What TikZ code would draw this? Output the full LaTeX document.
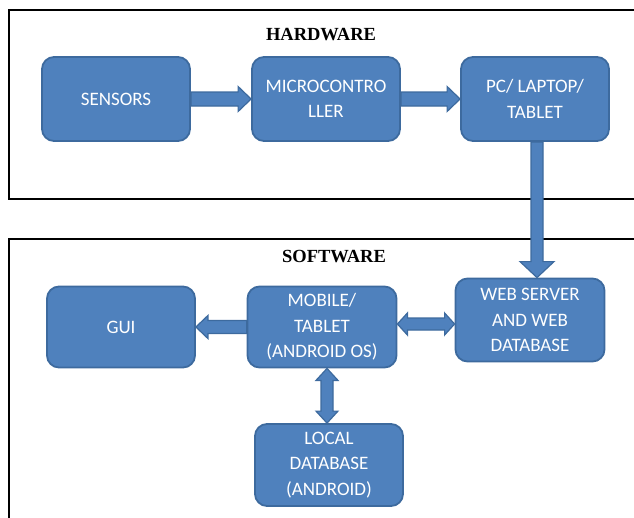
\documentclass[tikz,border=0pt]{standalone}
\usepackage{fontspec}
\setmainfont{Carlito}
\newfontfamily\titlefont{Liberation Serif}
\usetikzlibrary{calc}
\definecolor{boxfill}{HTML}{4F81BD}
\definecolor{boxline}{HTML}{3D6A9E}
\tikzset{
  blk/.style={draw=boxline, fill=boxfill, line width=1.8pt, rounded corners=12pt,
    minimum width=148pt, minimum height=83pt, text=white,
    font=\fontsize{19}{25.5}\selectfont, align=center, inner sep=0pt},
  frame/.style={draw=black, line width=2pt},
  ttl/.style={font=\titlefont\bfseries\fontsize{18.5}{20}\selectfont, inner sep=0pt},
  barrow/.style={fill=boxfill, draw=boxline, line width=1.2pt, line join=miter}
}
% single block arrow: start, end, half shaft, half head, head length
\newcommand\blockarrow[5]{%
  \coordinate (ba-s) at (#1); \coordinate (ba-e) at (#2);
  \coordinate (ba-h) at ($(ba-e)!#5!(ba-s)$);
  \draw[barrow] ($(ba-s)!#3!90:(ba-e)$) -- ($(ba-h)!#3!-90:(ba-s)$) -- ($(ba-h)!#4!-90:(ba-s)$)
    -- (ba-e) -- ($(ba-h)!#4!90:(ba-s)$) -- ($(ba-h)!#3!90:(ba-s)$) -- ($(ba-s)!#3!-90:(ba-e)$) -- cycle;}
% double block arrow
\newcommand\dblarrow[5]{%
  \coordinate (da-s) at (#1); \coordinate (da-e) at (#2);
  \coordinate (da-h1) at ($(da-e)!#5!(da-s)$);
  \coordinate (da-h2) at ($(da-s)!#5!(da-e)$);
  \draw[barrow] (da-s) -- ($(da-h2)!#4!90:(da-e)$) -- ($(da-h2)!#3!90:(da-e)$)
    -- ($(da-h1)!#3!-90:(da-s)$) -- ($(da-h1)!#4!-90:(da-s)$) -- (da-e)
    -- ($(da-h1)!#4!90:(da-s)$) -- ($(da-h1)!#3!90:(da-s)$)
    -- ($(da-h2)!#3!-90:(da-e)$) -- ($(da-h2)!#4!-90:(da-e)$) -- cycle;}
\begin{document}
\begin{tikzpicture}[x=1pt, y=-1pt]
\useasboundingbox (0,0) rectangle (634,517);
\clip (0,0) rectangle (634,517);
% frames
\draw[frame] (9,10) rectangle (660,199);
\draw[frame] (9,239) rectangle (660,540);
\node[ttl] (hw) at (321,35) {HARDWARE};
\node[ttl] (sw) at (334,257) {SOFTWARE};
% hardware boxes
\node[blk, minimum height=84pt] (sens) at (116,99) {SENSORS};
\node[blk, minimum height=84pt] (micro) at (326,99) {MICROCONTRO\\LLER};
\node[blk, minimum height=84pt] (pc) at (535,99) {PC/ LAPTOP/\\TABLET};
% software boxes
\node[blk, minimum height=81pt] (gui) at (121,327) {GUI};
\node[blk, minimum width=149pt, minimum height=81pt] (mob) at (322,327) {MOBILE/\\TABLET\\(ANDROID OS)};
\node[blk, minimum width=149pt] (web) at (530,320) {WEB SERVER\\AND WEB\\DATABASE};
\node[blk, minimum height=82pt] (loc) at (329,465) {LOCAL\\DATABASE\\(ANDROID)};
% connector anchor points
\coordinate (pcs) at ($(pc.south)+(2,0)$);
\coordinate (mobe) at ($(mob.east)+(0,-3)$);
\coordinate (locn) at ($(loc.north)+(-2,0)$);
% connectors
\blockarrow{sens.east}{micro.west}{7pt}{12.5pt}{13pt}
\blockarrow{micro.east}{pc.west}{7pt}{12.5pt}{13pt}
\blockarrow{pcs}{pcs |- web.north}{6pt}{17pt}{16pt}
\blockarrow{mob.west}{gui.east}{6.5pt}{11.5pt}{12pt}
\dblarrow{mobe}{mobe -| web.west}{6pt}{11pt}{10pt}
\dblarrow{locn}{locn |- mob.south}{6pt}{11pt}{12pt}
\end{tikzpicture}
\end{document}
